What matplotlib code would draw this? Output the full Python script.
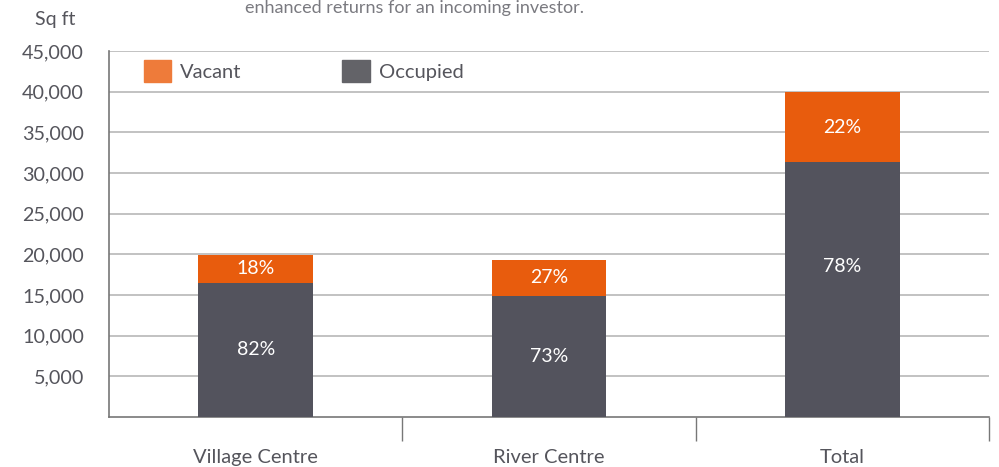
import matplotlib
matplotlib.use("Agg")
from matplotlib import pyplot as plt
from matplotlib.patches import Patch
import numpy as np

# data
categories = ["Village Centre", "River Centre", "Total"]
occupied = [16500, 14900, 31300]
vacant = [3400, 4400, 8700]
occupied_pct = ["82%", "73%", "78%"]
vacant_pct = ["18%", "27%", "22%"]
yticks = [5000, 10000, 15000, 20000, 25000, 30000, 35000, 40000, 45000]

ORANGE = "#E85C0D"
GREY = "#53535D"
TEXT = "#55555c"

plt.rcParams["font.family"] = ["Lato", "DejaVu Sans"]

fig = plt.figure(figsize=(9.99, 4.67), dpi=100)
ax = fig.add_axes([109 / 999, 50 / 467, (989 - 109) / 999, (417 - 51) / 467])

x = np.arange(len(categories))
w = 0.39
ax.bar(x, occupied, w, color=GREY, zorder=3)
ax.bar(x, vacant, w, bottom=occupied, color=ORANGE, zorder=3)

# occupied label sits a bit higher on the big bar
occ_frac = [0.5, 0.5, 0.59]
for i in range(len(categories)):
    ax.text(x[i], occupied[i] * occ_frac[i], occupied_pct[i], ha="center", va="center",
            color="white", fontsize=14)
    ax.text(x[i], occupied[i] + vacant[i] / 2, vacant_pct[i], ha="center", va="center",
            color="white", fontsize=14)

ax.set_xlim(-0.5, len(categories) - 0.5)
ax.set_ylim(0, 45000)
ax.set_yticks(yticks)
ax.set_yticklabels([f"{v:,}" for v in yticks])
ax.yaxis.grid(True, color="#bdbdbd", linewidth=1.3, zorder=0)
ax.tick_params(axis="y", length=0, pad=18, labelsize=14.2, labelcolor=TEXT)

ax.set_xticks(x)
ax.set_xticklabels(categories)
ax.tick_params(axis="x", length=0, pad=29, labelsize=14.5, labelcolor=TEXT)
ax.set_xticks(np.arange(len(categories)) + 0.5, minor=True)
ax.tick_params(axis="x", which="minor", length=17, width=1, color="#777777")
for lbl in ax.get_xticklabels():
    lbl.set_verticalalignment("center")

for s in ["top", "right"]:
    ax.spines[s].set_visible(False)
ax.spines["left"].set_color("#777777")
ax.spines["bottom"].set_color("#777777")
ax.spines["left"].set_linewidth(1.2)
ax.spines["bottom"].set_linewidth(1.2)

handles = [Patch(color="#EE7B3A", label="Vacant"), Patch(color="#636368", label="Occupied")]
leg = ax.legend(handles=handles, loc="upper left", bbox_to_anchor=(0.025, 1.012), ncol=2,
                frameon=False, fontsize=14.5, handlelength=1.35, handleheight=1.35,
                columnspacing=5.0, handletextpad=0.45, borderaxespad=0.25)
for t in leg.get_texts():
    t.set_color(TEXT)
leg.set_zorder(5)

fig.text(55 / 999, 1 - 20 / 467, "Sq ft", ha="center", va="center", fontsize=14, color=TEXT)
fig.text(245 / 999, 1.0, "enhanced returns for an incoming investor.", ha="left",
         va="top", fontsize=13, color="#7a7a80")

fig.savefig("out.png", dpi=100)
